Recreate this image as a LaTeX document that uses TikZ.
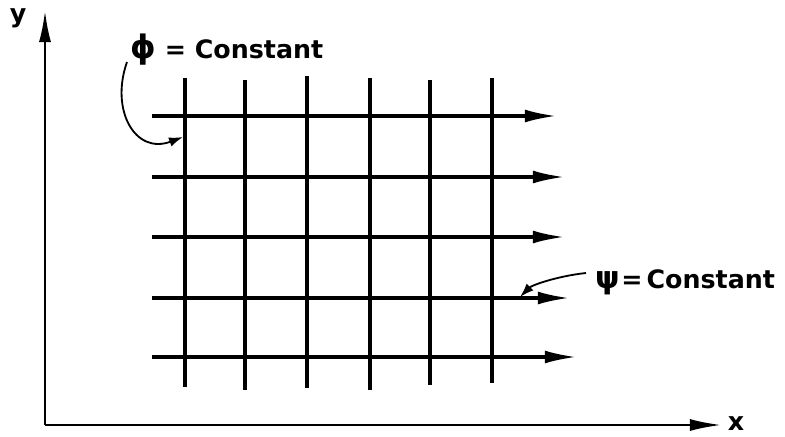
\documentclass[tikz,border=0pt]{standalone}
\usepackage{fontspec}
\setsansfont{DejaVu Sans}
\usetikzlibrary{arrows.meta}
\tikzset{
  axisline/.style={line width=2pt, -{Latex[length=8mm,width=3mm]}},
  gridline/.style={line width=2.2pt},
  flowline/.style={line width=2.4pt, -{Latex[length=8mm,width=3.2mm]}},
  pointer/.style={line width=1.3pt, -{Latex[length=3.5mm,width=2.4mm]}},
  lbl/.style={font=\sffamily\bfseries\fontsize{18}{22}\selectfont, inner sep=0pt},
}
\begin{document}
\begin{tikzpicture}[x=0.025cm, y=-0.025cm]
    \useasboundingbox (0,0) rectangle (785,436);
    % axes
    \coordinate (origin) at (45,425);
    \coordinate (ytip) at (45,10);
    \coordinate (xtip) at (722,425);
    \draw[axisline] (origin) -- (ytip);
    \draw[axisline] (origin) -- (xtip);
    \node[lbl] (ylabel) at (18,18) {y};
    \node[lbl] (xlabel) at (736,424) {x};
    % phi = const lines
    \foreach \x/\t/\b in {185/78/387, 245/80/390, 307/76/388, 370/78/390, 430/80/385, 492/78/383}
        \draw[gridline] (\x,\t) -- (\x,\b);
    % psi = const lines
    \foreach \y/\e in {116/557, 177/565, 237/565, 298/570, 357/577}
        \draw[flowline] (152,\y) -- (\e,\y);
    % labels
    \node[lbl, anchor=west] (phi) at (130,50) {{\fontsize{23}{26}\selectfont ϕ} = Constant};
    \node[lbl, anchor=west] (psi) at (595,282) {{\fontsize{22}{26}\selectfont ψ}\kern1pt=\kern3pt Constant};
    \coordinate (phistart) at (127,62);
    \coordinate (phitip) at (183,137);
    \coordinate (psistart) at (586,273);
    \coordinate (psitip) at (520,297);
    \draw[pointer] (phistart) .. controls (110,110) and (135,155) .. (phitip);
    \draw[pointer] (psistart) .. controls (558,276) and (532,285) .. (psitip);
\end{tikzpicture}
\end{document}
